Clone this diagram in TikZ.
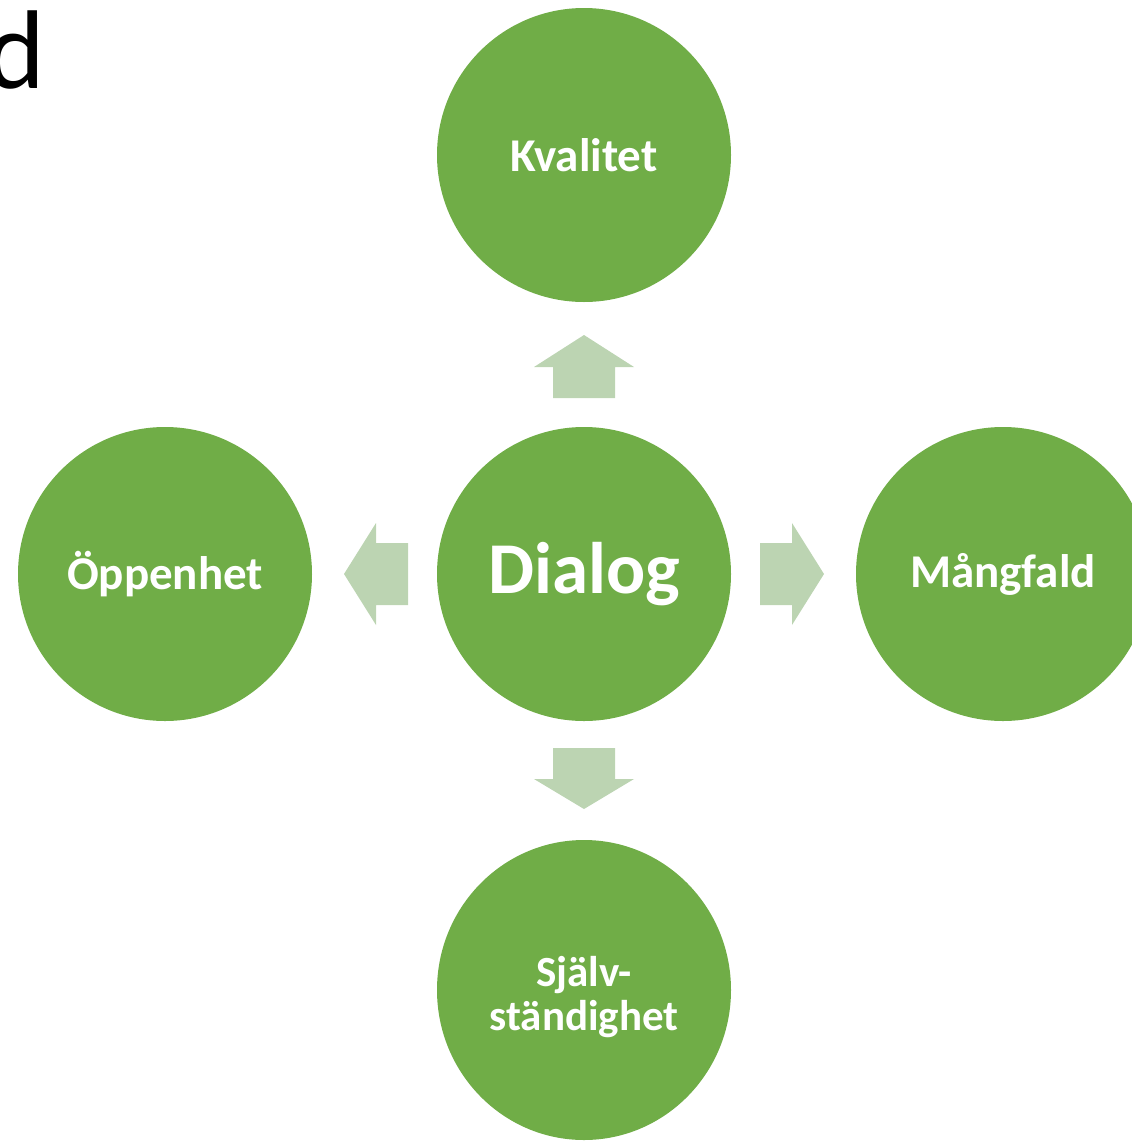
\documentclass[tikz,border=0pt]{standalone}
\usepackage{fontspec}
\usetikzlibrary{shapes.geometric}
\setmainfont{Carlito}
\definecolor{circgreen}{RGB}{112,173,71}
\definecolor{arrowgreen}{RGB}{188,212,178}
\begin{document}
\begin{tikzpicture}[x=1pt,y=-1pt,
  circ/.style={circle,fill=circgreen,minimum size=294pt,inner sep=0pt,text=white,font=\bfseries\fontsize{47}{47}\selectfont,align=center},
  arr/.style={fill=arrowgreen,draw=none}]
\useasboundingbox (0,0) rectangle (1132,1141);
\clip (0,0) rectangle (1132,1141);
% partial title letter
\node[anchor=base east,inner sep=0pt,font=\fontsize{112}{112}\selectfont] (title) at (46,88) {d};
% circles
\node[circ] (kval) at (584,155) {Kvalitet};
\node[circ,font=\bfseries\fontsize{73}{73}\selectfont] (dialog) at (584,574) {Dialog};
\node[circ] (oppen) at (165,574) {Öppenhet};
\node[circ] (mang) at (1003,574) {Mångfald};
\node[ellipse,fill=circgreen,inner sep=0pt,minimum width=294pt,minimum height=300pt] (sjalv) at (584,990) {};
\node[text=white,font=\bfseries\fontsize{43}{44}\selectfont,align=center,inner sep=0pt] (sjalvtext) at (584,997) {Själv-\\ständighet};
% arrows
\fill[arr] (553,398) -- (553,367) -- (534,367) -- (584,335) -- (634,367) -- (615,367) -- (615,398) -- cycle;
\fill[arr] (553,748) -- (553,779) -- (534,779) -- (584,809) -- (634,779) -- (615,779) -- (615,748) -- cycle;
\fill[arr] (760,543) -- (792,543) -- (792,523) -- (824,574) -- (792,625) -- (792,605) -- (760,605) -- cycle;
\fill[arr] (408,543) -- (376,543) -- (376,523) -- (344,574) -- (376,625) -- (376,605) -- (408,605) -- cycle;
\end{tikzpicture}
\end{document}
